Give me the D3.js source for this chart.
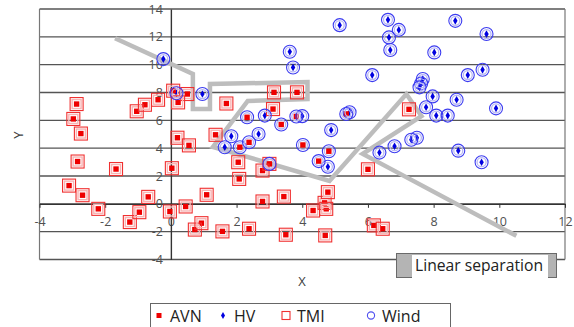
<!DOCTYPE html>
<html>
<head>
<meta charset="utf-8">
<script src="https://cdn.jsdelivr.net/npm/d3@7"></script>
<style>
  body { margin: 0; background: #fff; }
  svg { display: block; font-family: "Open Sans", sans-serif; }
</style>
</head>
<body>
<svg id="chart" width="574" height="327"></svg>
<script>
// tick values
const xTicks = [-4, -2, 0, 2, 4, 6, 8, 10, 12];
const yTicks = [-4, -2, 0, 2, 4, 6, 8, 10, 12, 14];

// series (x, y)
const avnPoints = [
  [-2.87, 7.17], [-2.97, 6.10], [-2.74, 5.05], [-2.84, 3.04], [-1.67, 2.50], [-3.10, 1.31],
  [-2.69, 0.62], [-2.21, -0.36], [-1.25, -1.31], [-0.96, -0.60], [-0.69, 0.50], [-1.04, 6.65],
  [-0.79, 7.12], [-0.39, 7.48], [0.03, 2.56], [0.20, 4.75], [0.55, 4.20], [-0.03, -0.55],
  [0.45, -0.19], [0.73, -1.85], [0.93, -1.39], [1.09, 0.65], [1.57, -1.98], [2.38, -1.79],
  [2.05, 2.99], [2.08, 1.79], [2.79, 2.39], [3.00, 2.87], [1.36, 4.96], [2.79, 0.17],
  [3.44, 0.52], [3.50, -2.22], [4.33, -0.48], [4.68, 0.07], [4.73, -0.36], [4.78, 0.84],
  [4.70, -2.27], [6.00, 2.48], [6.18, -1.55], [6.45, -1.79], [7.25, 6.79], [0.07, 8.13],
  [0.50, 7.89], [0.22, 7.29], [1.69, 7.21], [3.14, 8.01], [3.84, 8.01], [3.11, 6.81],
  [2.32, 6.22], [3.36, 5.70], [3.82, 6.28], [5.34, 6.46], [4.02, 4.23], [4.81, 3.78],
  [4.50, 3.07], [2.10, 4.07], [2.38, 4.42]
];

const tmiPoints = [
  [-2.87, 7.17], [-2.97, 6.10], [-2.74, 5.05], [-2.84, 3.04], [-1.67, 2.50], [-3.10, 1.31],
  [-2.69, 0.62], [-2.21, -0.36], [-1.25, -1.31], [-0.96, -0.60], [-0.69, 0.50], [-1.04, 6.65],
  [-0.79, 7.12], [-0.39, 7.48], [0.03, 2.56], [0.20, 4.75], [0.55, 4.20], [-0.03, -0.55],
  [0.45, -0.19], [0.73, -1.85], [0.93, -1.39], [1.09, 0.65], [1.57, -1.98], [2.38, -1.79],
  [2.05, 2.99], [2.08, 1.79], [2.79, 2.39], [3.00, 2.87], [1.36, 4.96], [2.79, 0.17],
  [3.44, 0.52], [3.50, -2.22], [4.33, -0.48], [4.68, 0.07], [4.73, -0.36], [4.78, 0.84],
  [4.70, -2.27], [6.00, 2.48], [6.18, -1.55], [6.45, -1.79], [7.25, 6.79], [0.07, 8.13],
  [0.50, 7.89], [0.22, 7.29], [1.69, 7.21], [3.14, 8.01], [3.84, 8.01], [3.11, 6.81]
];

const hvPoints = [
  [5.14, 12.84], [3.62, 10.93], [3.72, 9.80], [6.13, 9.25], [6.61, 13.22], [6.94, 12.50],
  [6.64, 11.96], [6.68, 11.05], [8.66, 13.15], [9.61, 12.20], [8.02, 10.88], [9.04, 9.25],
  [9.49, 9.63], [7.67, 8.97], [7.62, 8.65], [7.57, 8.37], [7.97, 7.72], [8.70, 7.48],
  [7.77, 6.94], [8.08, 6.34], [8.43, 6.34], [9.90, 6.86], [7.49, 4.75], [7.32, 4.61],
  [6.81, 4.14], [6.35, 3.68], [8.75, 3.82], [9.46, 2.99], [4.88, 5.30], [5.44, 6.58],
  [4.78, 2.66], [4.00, 6.30], [2.86, 6.34], [2.67, 5.02], [1.84, 4.86], [1.64, 4.07],
  [0.96, 7.89], [0.17, 7.95], [-0.23, 10.40]
];

const windPoints = [
  [5.14, 12.84], [3.62, 10.93], [3.72, 9.80], [6.13, 9.25], [6.61, 13.22], [6.94, 12.50],
  [6.64, 11.96], [6.68, 11.05], [8.66, 13.15], [9.61, 12.20], [8.02, 10.88], [9.04, 9.25],
  [9.49, 9.63], [7.67, 8.97], [7.62, 8.65], [7.57, 8.37], [7.97, 7.72], [8.70, 7.48],
  [7.77, 6.94], [8.08, 6.34], [8.43, 6.34], [9.90, 6.86], [7.49, 4.75], [7.32, 4.61],
  [6.81, 4.14], [6.35, 3.68], [8.75, 3.82], [9.46, 2.99], [4.88, 5.30], [5.44, 6.58],
  [4.78, 2.66], [4.00, 6.30], [2.86, 6.34], [2.67, 5.02], [1.84, 4.86], [1.64, 4.07],
  [0.96, 7.89], [0.17, 7.95], [-0.23, 10.40], [5.34, 6.46], [4.02, 4.23], [4.81, 3.78],
  [4.50, 3.07], [3.82, 6.28], [3.36, 5.70], [2.32, 6.22], [2.10, 4.07], [2.38, 4.42],
  [3.00, 2.87]
];

// hand drawn separation line
const separationLine = [
  [-1.7, 11.9], [0.67, 9.33], [0.67, 6.81], [1.19, 6.81], [1.19, 8.61], [4.16, 8.75],
  [4.16, 7.53], [2.34, 7.39], [1.28, 4.09], [4.83, 1.65], [7.17, 7.89], [7.63, 6.31],
  [5.84, 3.59], [10.52, -2.30]
];

const legendLabels = ['AVN', 'HV', 'TMI', 'Wind'];
const separationLabel = 'Linear separation';

const svg = d3.select('#chart');
const gridColor = '#555';

const x = d3.scaleLinear().domain([-4, 12]).range([39.5, 565]);
const y = d3.scaleLinear().domain([-4, 14]).range([259.5, 9]);

// grid + frame
svg.append('g')
  .selectAll('line')
  .data(yTicks)
  .enter()
  .append('line')
    .attr('x1', x(-4)).attr('x2', x(12))
    .attr('y1', d => y(d)).attr('y2', d => y(d))
    .attr('stroke', gridColor)
    .attr('stroke-width', 1.3);

svg.append('g')
  .selectAll('line')
  .data([-4, 12])
  .enter()
  .append('line')
    .attr('x1', d => x(d)).attr('x2', d => x(d))
    .attr('y1', y(-4)).attr('y2', y(14))
    .attr('stroke', '#777')
    .attr('stroke-width', 1.2);

// axes crossing at (0, 0), plain hyphen for negatives like the original
const plain = d => String(d);

const xAxis = svg.append('g')
  .attr('transform', `translate(0,${y(0)})`)
  .call(d3.axisBottom(x).tickValues(xTicks).tickFormat(plain).tickSize(4).tickSizeOuter(0).tickPadding(9));

const yAxis = svg.append('g')
  .attr('transform', `translate(${x(0)},0)`)
  .call(d3.axisLeft(y).tickValues(yTicks).tickFormat(plain).tickSize(0).tickPadding(8));

[xAxis, yAxis].forEach(g => {
  g.select('.domain').attr('stroke', '#333').attr('stroke-width', 1.4);
  g.selectAll('.tick line').attr('stroke', '#333');
  g.selectAll('text')
    .attr('fill', '#505050')
    .style('font-family', '"Open Sans", sans-serif')
    .style('font-size', '12.5px');
});

// separation polyline
svg.append('path')
  .datum(separationLine)
  .attr('d', d3.line().x(d => x(d[0])).y(d => y(d[1])))
  .attr('fill', 'none')
  .attr('stroke', '#bdbdbd')
  .attr('stroke-width', 4.5)
  .attr('stroke-linejoin', 'miter');

// markers
function drawTmi(g, cx, cy, s) {
  g.append('rect').attr('x', cx - s / 2).attr('y', cy - s / 2).attr('width', s).attr('height', s)
    .attr('fill', 'none').attr('stroke', '#f03030').attr('stroke-width', 1.1);
  g.append('rect').attr('x', cx - s / 2 + 2).attr('y', cy - s / 2 + 2).attr('width', s - 4).attr('height', s - 4)
    .attr('fill', 'none').attr('stroke', '#f8b4b4').attr('stroke-width', 1.4);
}
function drawWind(g, cx, cy, r) {
  g.append('circle').attr('cx', cx).attr('cy', cy).attr('r', r)
    .attr('fill', 'none').attr('stroke', '#3c3cf0').attr('stroke-width', 1.1);
  g.append('circle').attr('cx', cx).attr('cy', cy).attr('r', r - 2)
    .attr('fill', 'none').attr('stroke', '#b8b8f4').attr('stroke-width', 1.3);
}

const hvG = svg.append('g');
hvPoints.forEach(d => {
  hvG.append('path')
    .attr('transform', `translate(${x(d[0])},${y(d[1])})`)
    .attr('d', d3.symbol(d3.symbolDiamond, 17)())
    .attr('fill', '#0000e0');
});

const avnG = svg.append('g');
avnPoints.forEach(d => {
  avnG.append('rect')
    .attr('x', x(d[0]) - 2.7).attr('y', y(d[1]) - 2.7)
    .attr('width', 5.4).attr('height', 5.4)
    .attr('fill', '#ee0000');
});

const tmiG = svg.append('g');
tmiPoints.forEach(d => drawTmi(tmiG, x(d[0]), y(d[1]), 13));

const windG = svg.append('g');
windPoints.forEach(d => drawWind(windG, x(d[0]), y(d[1]), 6.5));

// axis titles
svg.append('text')
  .attr('x', 302).attr('y', 286)
  .attr('text-anchor', 'middle')
  .attr('fill', '#404040')
  .style('font-size', '13px')
  .text('X');

svg.append('text')
  .attr('transform', 'translate(23,135) rotate(-90)')
  .attr('text-anchor', 'middle')
  .attr('fill', '#404040')
  .style('font-size', '13px')
  .text('Y');

// "Linear separation" label box
const sep = svg.append('g');
sep.append('rect')
  .attr('x', 396.5).attr('y', 253.5).attr('width', 160).attr('height', 24)
  .attr('fill', '#b4b4b4').attr('stroke', '#6a6a6a').attr('stroke-width', 1);
sep.append('rect')
  .attr('x', 412).attr('y', 255).attr('width', 136).attr('height', 23)
  .attr('fill', '#fff');
sep.append('text')
  .attr('x', 415).attr('y', 271)
  .attr('fill', '#222')
  .attr('textLength', 128).attr('lengthAdjust', 'spacingAndGlyphs')
  .style('font-size', '16.5px')
  .text(separationLabel);

// legend
const legend = svg.append('g');
legend.append('rect')
  .attr('x', 150.5).attr('y', 303.5).attr('width', 300).attr('height', 30)
  .attr('fill', '#fff').attr('stroke', '#666').attr('stroke-width', 1);

const legendX = [159, 223, 286, 371];
legendLabels.forEach((name, i) => {
  const cx = legendX[i], cy = 315.5;
  if (name === 'AVN') {
    legend.append('rect').attr('x', cx - 2.5).attr('y', cy - 2.5).attr('width', 5).attr('height', 5).attr('fill', '#ee0000');
  } else if (name === 'HV') {
    legend.append('path').attr('transform', `translate(${cx},${cy})`)
      .attr('d', d3.symbol(d3.symbolDiamond, 14)()).attr('fill', '#0000e0');
  } else if (name === 'TMI') {
    legend.append('rect').attr('x', cx - 4).attr('y', cy - 4).attr('width', 8).attr('height', 8)
      .attr('fill', 'none').attr('stroke', '#f03030').attr('stroke-width', 1.1);
  } else {
    legend.append('circle').attr('cx', cx).attr('cy', cy).attr('r', 3.6)
      .attr('fill', 'none').attr('stroke', '#5050f0').attr('stroke-width', 1.1);
  }
  legend.append('text')
    .attr('x', cx + 11).attr('y', cy + 6)
    .attr('fill', '#222')
    .style('font-size', '16px')
    .text(name);
});
</script>
</body>
</html>
